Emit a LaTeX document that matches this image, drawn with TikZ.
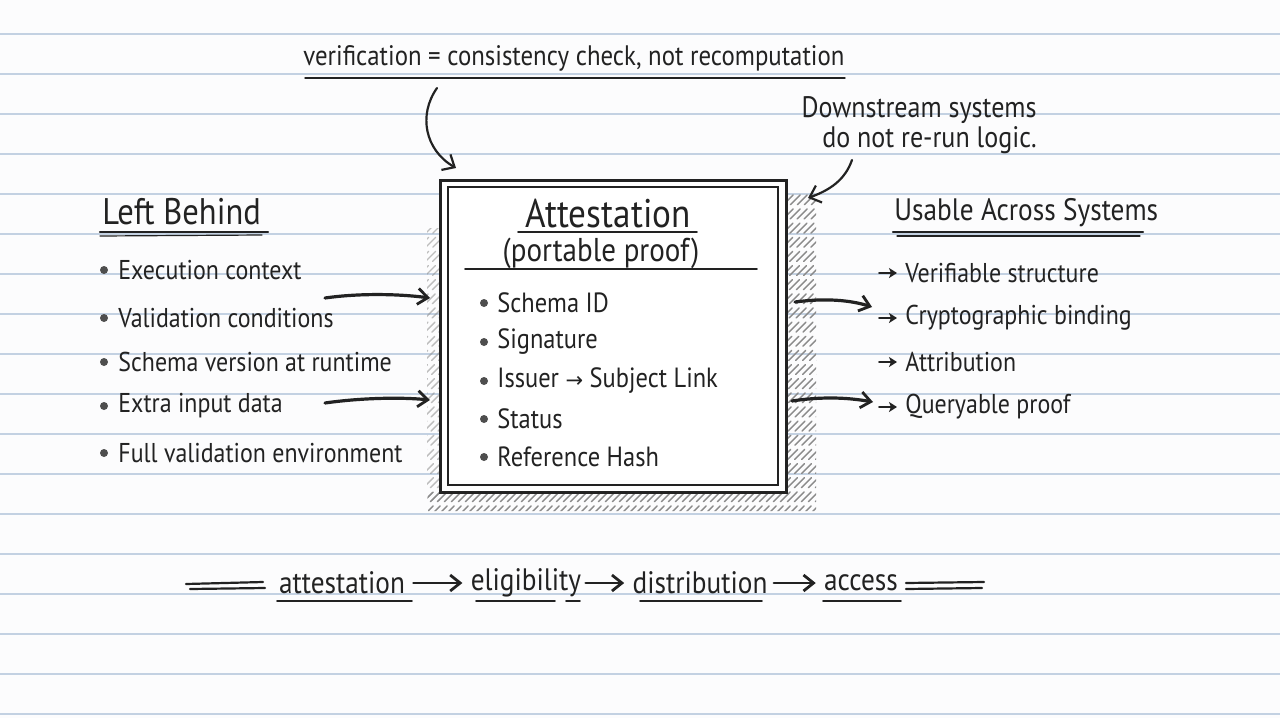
\documentclass[tikz,border=0pt]{standalone}
\usepackage{fontspec}
\setmainfont{PT Sans}
\newfontfamily\hand[FakeStretch=0.88]{PT Sans}
\newfontfamily\sym{DejaVu Sans}
\usetikzlibrary{arrows.meta}
\definecolor{ink}{HTML}{222222}
\definecolor{rule}{HTML}{C3D1E2}
\definecolor{paper}{HTML}{FCFCFD}
\definecolor{hatchc}{HTML}{8A8A8A}
\tikzset{
  txt/.style={font=\hand\fontsize{13.6}{16}\selectfont, text=ink, inner sep=0pt},
  itm/.style={font=\hand\fontsize{13.9}{17}\selectfont, text=ink, inner sep=0pt},
  head/.style={font=\hand\fontsize{18.5}{22}\selectfont, text=ink, inner sep=0pt},
  ruled/.style={draw=rule, line width=0.7pt},
  bul/.style={circle, fill=ink!80, inner sep=0pt, minimum size=4pt},
  uline/.style={draw=ink, line width=0.9pt, line cap=round},
  bigarrow/.style={draw=ink, line width=1.6pt, line cap=round, -{Straight Barb[length=5pt,width=8pt,line width=1.4pt]}},
  smallarrow/.style={draw=ink, line width=1pt, line cap=round, -{Stealth[length=4pt,width=5pt,inset=1pt]}},
  curvearrow/.style={draw=ink, line width=1.1pt, line cap=round, -{Straight Barb[length=5pt,width=9pt]}},
  hatch/.style={draw=hatchc, line width=0.7pt, line cap=round, dash pattern=on 7pt off 3pt},
}
\begin{document}
\begin{tikzpicture}[x=0.5pt,y=-0.5pt]
\useasboundingbox (0,0) rectangle (1280,718);
\fill[paper] (0,0) rectangle (1280,718);
\foreach \k in {0,...,17} \draw[ruled] (0,{34+40*\k}) -- (1280,{34+40*\k});

% hatched shadow
\begin{scope}
\clip (786,192) rectangle (816,508) (428,492) rectangle (816,511);
\foreach \i in {0,...,110} \draw[hatch] ({80+7*\i},530) -- ++(350,-350);
\end{scope}
\begin{scope}
\clip (427,228) rectangle (440,500);
\foreach \i in {0,...,110} \draw[hatch, draw opacity=0.55] ({80+7*\i},530) -- ++(350,-350);
\end{scope}

% main box
\fill[white] (440,180) rectangle (786,492);
\node[draw=ink, line width=1.5pt, minimum width=173pt, minimum height=156pt, inner sep=0pt] (box) at (613,336) {};
\draw[ink, line width=0.9pt] (448,187) rectangle (778,485);

% top annotation
\node[txt, anchor=west, font=\hand\fontsize{14.1}{17}\selectfont] (verif) at (303,58) {verification = consistency check, not recomputation};
\draw[uline, line width=0.7pt] (305,78) -- (845,78);
\coordinate (va) at (437,88);
\coordinate (vb) at (456,168);
\draw[curvearrow] (va) .. controls (418,115) and (425,150) .. (vb);

% downstream annotation
\node[txt, anchor=east, align=right, font=\hand\fontsize{14.8}{15}\selectfont] (down) at (1037,125) {Downstream systems\\do not re-run logic.\hspace{2.5pt}};
\coordinate (da) at (852,160);
\coordinate (db) at (808,198);
\draw[curvearrow] (da) .. controls (845,180) and (830,190) .. (db);

% box content
\node[font=\hand\fontsize{20}{24}\selectfont, text=ink, inner sep=0pt] (att) at (608,214) {Attestation};
\draw[uline] (518,232) -- (697,232);
\node[font=\hand\fontsize{16.5}{20}\selectfont, text=ink, inner sep=0pt] (port) at (601,253) {(portable proof)};
\draw[uline] (465,269) -- (757,269);
\foreach \y/\t/\n in {303/Schema ID/b1, 342/Signature/b2, 381/{Issuer {\sym\fontsize{10.5}{12}\selectfont →} Subject Link}/b3, 419/Status/b4, 457/Reference Hash/b5}{
  \node[bul] (\n d) at (484,\y) {};
  \node[itm, anchor=west] (\n) at (497,\y) {\t};
}

% left column
\node[head, anchor=west] (left) at (102,212) {Left Behind};
\draw[uline, line width=1.1pt] (100,232) -- (268,232);
\draw[uline, line width=0.6pt] (100,236) -- (262,235);
\foreach \y/\t/\n in {270/Execution context/l1, 318/Validation conditions/l2, 362/Schema version at runtime/l3, 406/Extra input data/l4, 453/Full validation environment/l5}{
  \node[bul] (\n d) at (104,\y) {};
  \node[txt, anchor=west] (\n) at (118,\y) {\t};
}
\coordinate (la1) at (325,298);
\coordinate (lb1) at (430,298);
\coordinate (la2) at (325,403);
\coordinate (lb2) at (430,400);
\draw[bigarrow] (la1) .. controls (360,293) and (400,294) .. (lb1);
\draw[bigarrow] (la2) .. controls (360,398) and (400,397) .. (lb2);

% right column
\node[head, anchor=west, font=\hand\fontsize{15.5}{22}\selectfont] (right) at (894,213) {Usable Across Systems};
\draw[uline, line width=1.1pt] (893,232) -- (1143,232);
\draw[uline, line width=0.6pt] (897,236) -- (1140,236);
\foreach \y/\t/\n in {273/Verifiable structure/r1, 318/Cryptographic binding/r2, 362/Attribution/r3, 407/Queryable proof/r4}{
  \coordinate (\n a) at (879,\y);
  \coordinate (\n b) at (897,\y);
  \draw[smallarrow] (\n a) -- (\n b);
  \node[itm, anchor=west, font=\hand\fontsize{13.6}{17}\selectfont] (\n) at (905,\y) {\t};
}
\coordinate (ra1) at (795,302);
\coordinate (rb1) at (872,307);
\coordinate (ra2) at (792,401);
\coordinate (rb2) at (873,402);
\draw[bigarrow] (ra1) .. controls (825,298) and (850,300) .. (rb1);
\draw[bigarrow] (ra2) .. controls (825,396) and (850,398) .. (rb2);

% bottom flow
\node[txt, font=\hand\fontsize{15.5}{18}\selectfont] (f1) at (342,583) {attestation};
\node[txt, font=\hand\fontsize{15.5}{18}\selectfont] (f2) at (526,583) {eligibility};
\node[txt, font=\hand\fontsize{15.5}{18}\selectfont] (f3) at (700,583) {distribution};
\node[txt, font=\hand\fontsize{15.5}{18}\selectfont] (f4) at (861,583) {access};
\draw[bigarrow, line width=1.2pt] ([xshift=4pt]f1.east) -- ([xshift=-4pt]f2.west);
\draw[bigarrow, line width=1.2pt] ([xshift=2pt]f2.east) -- ([xshift=-4pt]f3.west);
\draw[bigarrow, line width=1.2pt] ([xshift=3pt]f3.east) -- ([xshift=-4pt]f4.west);
\draw[uline] (277,601) -- (412,601);
\draw[uline] (476,601) -- (555,601);
\draw[uline] (566,601) -- (580,601);
\draw[uline] (640,601) -- (762,601);
\draw[uline] (823,601) -- (901,601);
\draw[uline, line width=1.1pt] (186,584) -- (263,582);
\draw[uline, line width=1.1pt] (190,589) -- (265,588);
\draw[uline, line width=1.1pt] (906,583) -- (984,582);
\draw[uline, line width=1.1pt] (906,589) -- (982,588);
\end{tikzpicture}
\end{document}
